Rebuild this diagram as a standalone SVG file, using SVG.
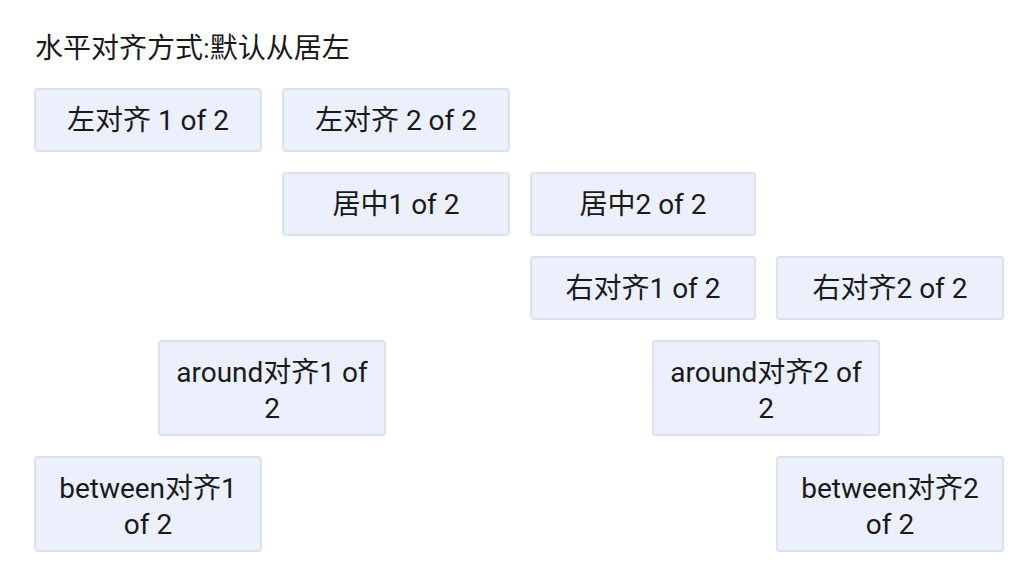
<svg xmlns="http://www.w3.org/2000/svg" width="1028" height="584" viewBox="0 0 1028 584">
<style>
text{font-family:Roboto,"Noto Sans CJK SC",sans-serif;font-size:28px;fill:#1a1a1a}
.t{text-anchor:middle}
.b{fill:#ebf0fc;stroke:#dde1ea;stroke-width:2}
</style>
<rect width="1028" height="584" fill="#ffffff"/>
<text id="title" x="35" y="58" font-size="26">水平对齐方式:默认从居左</text>
<g id="n1"><rect class="b" x="35" y="89" width="226" height="62" rx="3"/><text class="t" x="148" y="130">左对齐 1 of 2</text></g>
<g id="n2"><rect class="b" x="283" y="89" width="226" height="62" rx="3"/><text class="t" x="396" y="130">左对齐 2 of 2</text></g>
<g id="n3"><rect class="b" x="283" y="173" width="226" height="62" rx="3"/><text class="t" x="396" y="214">居中1 of 2</text></g>
<g id="n4"><rect class="b" x="531" y="173" width="224" height="62" rx="3"/><text class="t" x="643" y="214">居中2 of 2</text></g>
<g id="n5"><rect class="b" x="531" y="257" width="224" height="62" rx="3"/><text class="t" x="643" y="298">右对齐1 of 2</text></g>
<g id="n6"><rect class="b" x="777" y="257" width="226" height="62" rx="3"/><text class="t" x="890" y="298">右对齐2 of 2</text></g>
<g id="n7"><rect class="b" x="159" y="341" width="226" height="94" rx="3"/><text class="t" x="272" y="382">around对齐1 of</text><text class="t" x="272" y="418">2</text></g>
<g id="n8"><rect class="b" x="653" y="341" width="226" height="94" rx="3"/><text class="t" x="766" y="382">around对齐2 of</text><text class="t" x="766" y="418">2</text></g>
<g id="n9"><rect class="b" x="35" y="457" width="226" height="94" rx="3"/><text class="t" x="148" y="498">between对齐1</text><text class="t" x="148" y="534">of 2</text></g>
<g id="n10"><rect class="b" x="777" y="457" width="226" height="94" rx="3"/><text class="t" x="890" y="498">between对齐2</text><text class="t" x="890" y="534">of 2</text></g>
<g id="connectors"/>
</svg>
